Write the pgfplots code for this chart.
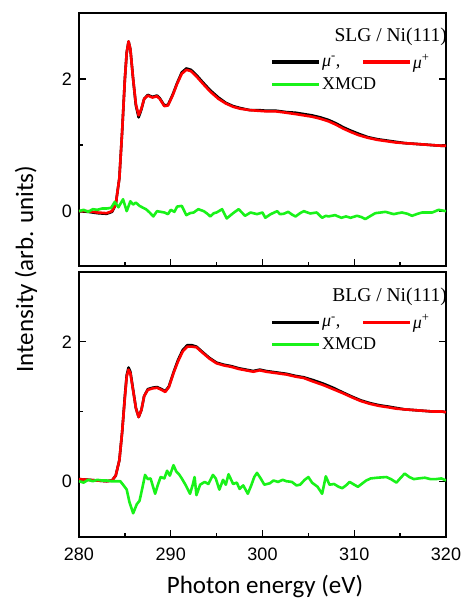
\documentclass[border=0pt]{standalone}
\usepackage{pgfplots}
\pgfplotsset{compat=1.18}
\usepackage{pgfplotstable}
\usepackage{fontspec}
\setmainfont{Liberation Sans}
\newfontfamily\seriffont{Liberation Serif}
\newfontfamily\calibri{Carlito}
\definecolor{xgreen}{rgb}{0.1,0.95,0.1}

\pgfplotstableread{
E I
280.0 0.00
281.0 0.00
282.0 -0.02
283.0 -0.03
283.6 0.00
284.0 0.10
284.4 0.50
284.7 1.20
285.0 2.00
285.2 2.40
285.4 2.57
285.6 2.45
285.9 2.00
286.2 1.62
286.5 1.45
286.8 1.55
287.1 1.70
287.5 1.75
288.0 1.72
288.5 1.74
288.8 1.70
289.3 1.59
289.7 1.60
290.2 1.75
290.7 1.93
291.2 2.08
291.7 2.14
292.2 2.12
292.8 2.04
293.5 1.93
294.3 1.81
295.2 1.70
296.0 1.63
296.8 1.58
297.6 1.55
298.6 1.53
299.5 1.52
300.5 1.51
301.5 1.51
302.6 1.49
303.6 1.47
304.5 1.45
305.4 1.43
306.3 1.40
307.2 1.36
308.0 1.31
308.8 1.25
309.6 1.20
310.5 1.15
311.5 1.11
312.5 1.08
313.5 1.06
314.5 1.04
315.5 1.03
316.5 1.02
317.5 1.01
318.5 1.00
319.5 0.99
320.0 0.99
}\topplus

\pgfplotstableread{
E I
280.0 0.00
281.0 -0.01
282.0 -0.03
283.0 -0.04
283.6 -0.01
284.0 0.10
284.4 0.50
284.7 1.20
285.0 2.00
285.2 2.40
285.4 2.57
285.6 2.45
285.9 2.00
286.2 1.60
286.5 1.42
286.8 1.54
287.1 1.70
287.5 1.76
288.0 1.73
288.5 1.75
288.8 1.71
289.3 1.60
289.7 1.61
290.2 1.76
290.7 1.94
291.2 2.10
291.7 2.16
292.2 2.14
292.8 2.06
293.5 1.95
294.3 1.83
295.2 1.72
296.0 1.64
296.8 1.59
297.6 1.56
298.6 1.53
299.5 1.53
300.5 1.52
301.5 1.52
302.6 1.50
303.6 1.49
304.5 1.47
305.4 1.45
306.3 1.42
307.2 1.38
308.0 1.33
308.8 1.27
309.6 1.22
310.5 1.17
311.5 1.12
312.5 1.09
313.5 1.07
314.5 1.05
315.5 1.03
316.5 1.02
317.5 1.01
318.5 1.00
319.5 0.99
320.0 0.99
}\topminus

\pgfplotstableread{
E I
280.0 0.00
280.5 0.02
281.0 -0.01
281.5 0.03
282.0 0.02
282.5 0.04
283.0 0.04
283.5 0.05
283.9 0.14
284.3 0.06
284.8 0.18
285.2 0.00
285.6 0.15
285.9 0.10
286.2 0.13
286.6 0.08
287.0 0.05
287.3 0.03
287.7 -0.02
288.1 -0.08
288.5 0.00
288.9 -0.01
289.3 -0.02
289.7 -0.045
290.0 0.02
290.4 -0.01
290.7 0.07
291.2 0.08
291.7 -0.06
292.1 -0.03
292.5 -0.02
293.0 0.03
293.6 0.00
294.0 -0.04
294.3 -0.08
294.7 -0.03
295.0 -0.02
295.6 0.03
296.1 -0.11
296.8 -0.03
297.4 0.03
298.1 -0.07
298.7 -0.02
299.4 -0.045
300.0 -0.02
300.3 -0.10
300.9 -0.045
301.6 0.00
301.9 -0.045
302.3 -0.04
302.8 -0.01
303.2 -0.05
303.6 -0.08
304.1 -0.03
304.5 0.00
305.2 -0.035
305.9 -0.02
306.5 -0.10
306.9 -0.07
307.2 -0.08
307.9 -0.06
308.6 -0.10
309.1 -0.08
309.6 -0.10
310.3 -0.07
310.8 -0.09
311.2 -0.12
311.8 -0.07
312.3 -0.03
312.9 -0.02
313.4 -0.01
313.9 -0.03
314.3 -0.045
314.8 -0.03
315.2 -0.02
315.8 -0.04
316.3 -0.07
316.9 -0.04
317.4 -0.02
318.0 -0.02
318.5 -0.02
319.2 0.02
320.0 0.00
}\topxmcd

\pgfplotstableread{
E I
280.0 0.03
281.0 0.02
282.0 0.01
283.0 0.00
283.6 0.01
284.0 0.08
284.4 0.30
284.7 0.70
285.0 1.20
285.2 1.50
285.4 1.60
285.6 1.55
285.9 1.30
286.2 1.05
286.5 0.92
286.8 1.02
287.1 1.22
287.5 1.31
288.0 1.33
288.5 1.34
289.0 1.31
289.4 1.28
289.8 1.35
290.3 1.55
290.8 1.72
291.3 1.86
291.8 1.93
292.3 1.93
292.8 1.92
293.4 1.85
294.2 1.76
295.0 1.69
295.8 1.66
296.6 1.64
297.4 1.61
298.2 1.59
299.0 1.57
299.7 1.59
300.4 1.57
301.5 1.55
302.6 1.53
303.6 1.50
304.5 1.48
305.5 1.43
306.6 1.38
307.7 1.32
308.8 1.26
309.8 1.20
310.7 1.15
311.7 1.11
312.7 1.08
313.7 1.06
314.6 1.04
315.5 1.03
316.5 1.02
317.5 1.01
318.5 1.00
319.5 1.00
320.0 0.99
}\botplus

\pgfplotstableread{
E I
280.0 0.03
281.0 0.02
282.0 0.01
283.0 0.00
283.6 0.01
284.0 0.08
284.4 0.30
284.7 0.70
285.0 1.22
285.2 1.52
285.4 1.63
285.6 1.57
285.9 1.31
286.2 1.05
286.5 0.92
286.8 1.02
287.1 1.22
287.5 1.32
288.0 1.34
288.5 1.35
289.0 1.32
289.4 1.29
289.8 1.36
290.3 1.56
290.8 1.74
291.3 1.88
291.8 1.95
292.3 1.95
292.8 1.93
293.4 1.86
294.2 1.77
295.0 1.70
295.8 1.67
296.6 1.65
297.4 1.62
298.2 1.60
299.0 1.58
299.7 1.60
300.4 1.58
301.5 1.56
302.6 1.54
303.6 1.51
304.5 1.49
305.5 1.45
306.6 1.40
307.7 1.34
308.8 1.27
309.8 1.21
310.7 1.16
311.7 1.12
312.7 1.09
313.7 1.07
314.6 1.05
315.5 1.03
316.5 1.02
317.5 1.01
318.5 1.00
319.5 1.00
320.0 0.99
}\botminus

\pgfplotstableread{
E I
280.0 0.00
280.5 -0.02
281.0 0.02
281.5 0.00
282.0 0.02
282.5 0.01
283.0 0.01
283.5 0.00
284.0 0.00
284.5 0.00
284.8 -0.05
285.2 -0.12
285.5 -0.30
285.9 -0.46
286.3 -0.33
286.6 -0.28
286.9 -0.10
287.2 0.09
287.5 0.03
287.8 0.04
288.3 -0.18
288.6 -0.05
288.9 0.06
289.3 0.04
289.6 0.15
289.9 0.08
290.3 0.23
290.6 0.14
290.9 0.10
291.2 0.04
291.6 -0.05
292.1 -0.18
292.4 -0.05
292.6 0.06
292.8 -0.20
293.2 -0.05
293.7 -0.01
294.1 -0.04
294.6 0.09
294.9 0.04
295.3 -0.12
295.7 0.02
296.0 -0.05
296.3 0.10
296.8 -0.04
297.2 -0.02
297.5 -0.11
297.9 -0.06
298.4 -0.18
298.8 -0.05
299.1 0.06
299.4 0.12
299.8 0.04
300.2 -0.05
300.8 -0.03
301.2 0.01
301.7 -0.01
302.2 0.02
302.6 0.00
303.2 -0.01
303.7 -0.06
304.1 -0.05
304.6 0.02
305.0 0.06
305.4 -0.02
306.0 -0.08
306.5 -0.18
306.9 0.07
307.3 -0.05
307.8 -0.04
308.3 -0.08
308.7 -0.10
309.1 -0.06
309.5 -0.01
310.0 -0.05
310.4 -0.08
310.9 -0.03
311.3 0.01
311.8 0.04
312.5 0.05
313.5 0.06
314.0 0.03
314.6 -0.02
315.0 0.04
315.5 0.11
316.0 0.06
316.5 0.03
317.0 0.04
317.7 0.05
318.3 0.03
318.9 0.03
319.5 0.04
320.0 0.01
}\botxmcd

\pgfplotsset{
  panel/.style={
    scale only axis, width=367pt,
    xmin=280, xmax=320,
    xtick={280,290,...,320}, minor xtick={285,295,...,315},
    ytick={0,2}, minor ytick={1},
    xtick pos=left, ytick pos=both, yticklabel pos=left,
    tick align=inside,
    major tick length=7pt, minor tick length=4pt,
    axis line style={line width=1.6pt},
    every tick/.style={line width=1.4pt, black},
    /pgf/number format/assume math mode=true,
    ticklabel style={font=\fontsize{18}{20}\selectfont},
    yticklabel style={inner sep=0pt, xshift=-7pt},
    xticklabel style={inner sep=0pt, yshift=-11pt},
    legend columns=2,
    legend cell align=left,
    legend image code/.code={\draw[##1, line width=3.4pt] (0pt,0pt) -- (47pt,0pt);},
    legend style={draw=none, fill=none, inner sep=0pt, row sep=6pt,
      nodes={inner sep=1pt},
      font=\seriffont\fontsize{18}{20}\selectfont},
    /tikz/every even column/.append style={column sep=20pt},
    every axis plot/.append style={line width=2.6pt, line join=round},
  }
}

\begin{document}
\begin{tikzpicture}
\path[use as bounding box] (0pt,0pt) rectangle (462pt,600pt);

\begin{axis}[panel, at={(79pt,334pt)}, anchor=south west, height=253pt,
  ymin=-0.83, ymax=3.0, xticklabels={},
  legend style={at={(0.522,0.84)}, anchor=north west}]
\addplot[black] table[x=E,y=I] {\topminus};
\addlegendentry{{\itshape μ}\textsuperscript{-},}
\addplot[red] table[x=E,y=I] {\topplus};
\addlegendentry{{\itshape μ}\textsuperscript{+}}
\addplot[xgreen] table[x=E,y=I] {\topxmcd};
\addlegendentry{\makebox[0pt][l]{XMCD}}
\node[anchor=east, inner sep=0pt, font=\seriffont\fontsize{19.5}{22}\selectfont] at (rel axis cs:1.003,0.905) {SLG / Ni(111)};
\end{axis}

\begin{axis}[panel, at={(79pt,63pt)}, anchor=south west, height=265pt,
  ymin=-0.8, ymax=3.0,
  legend style={at={(0.522,0.843)}, anchor=north west}]
\addplot[black] table[x=E,y=I] {\botminus};
\addlegendentry{{\itshape μ}\textsuperscript{-},}
\addplot[red] table[x=E,y=I] {\botplus};
\addlegendentry{{\itshape μ}\textsuperscript{+}}
\addplot[xgreen] table[x=E,y=I] {\botxmcd};
\addlegendentry{\makebox[0pt][l]{XMCD}}
\node[anchor=east, inner sep=0pt, font=\seriffont\fontsize{19.5}{22}\selectfont] at (rel axis cs:1.003,0.908) {BLG / Ni(111)};
\end{axis}

\node[rotate=90, font=\calibri\fontsize{25}{28}\selectfont] at (26pt,331pt) {Intensity (arb. units)};
\node[font=\calibri\fontsize{25}{28}\selectfont] at (265pt,13pt) {Photon energy (eV)};
\end{tikzpicture}
\end{document}
